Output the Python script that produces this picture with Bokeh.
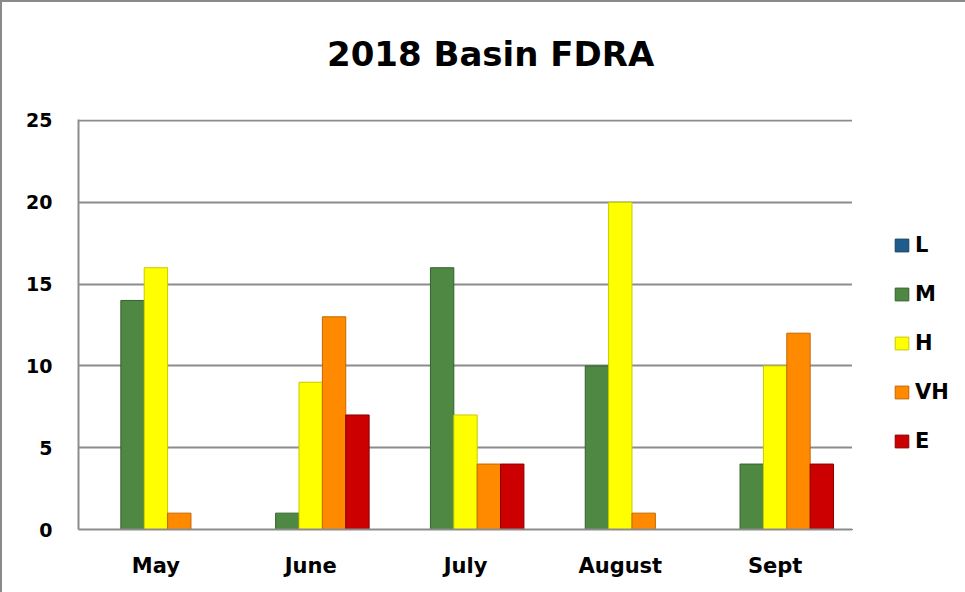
from bokeh.plotting import figure
from bokeh.models import (FactorRange, Range1d, FixedTicker, Legend, LegendItem,
                          ColumnDataSource, Div)
from bokeh.layouts import row, column
from bokeh.transform import dodge
from bokeh.embed import file_html
from bokeh.resources import INLINE

months = ["May", "June", "July", "August", "Sept"]
series = ["L", "M", "H", "VH", "E"]
L = [0, 0, 0, 0, 0]
M = [14, 1, 16, 10, 4]
H = [16, 9, 7, 20, 10]
VH = [1, 13, 4, 1, 12]
E = [0, 7, 4, 0, 4]
y_ticks = [0, 5, 10, 15, 20, 25]
title_text = "2018 Basin FDRA"

fills = ["#1F5C8C", "#4E8843", "#FFFF00", "#FF8A00", "#CC0000"]
edges = ["#15405F", "#35602D", "#C9C900", "#C46600", "#880000"]

FONT = "DejaVu Sans"

src = ColumnDataSource(dict(month=months, L=L, M=M, H=H, VH=VH, E=E))

title_div = Div(text=title_text, width=963, height=74, margin=0,
                styles={"font-family": FONT, "font-weight": "bold", "font-size": "34px",
                        "line-height": "1", "padding-top": "35px", "padding-left": "325px",
                        "color": "black", "white-space": "nowrap", "box-sizing": "border-box",
                        "background": "white"})

p = figure(x_range=FactorRange(*months, range_padding=0), y_range=Range1d(0, 25.06),
           width=850, height=516, output_backend="svg", toolbar_location=None,
           title=None, min_border_left=76, min_border_right=0,
           min_border_top=43, min_border_bottom=63)
p.outline_line_color = None
p.background_fill_color = "white"
p.border_fill_color = "white"

bw = 0.151
for i, s in enumerate(series):
    p.vbar(x=dodge("month", (i - 2) * bw, range=p.x_range), top=s, width=bw,
           source=src, fill_color=fills[i], line_color=edges[i], line_width=1)

p.xgrid.grid_line_color = None
p.ygrid.grid_line_color = "#8c8c8c"
p.ygrid.grid_line_width = 2
p.yaxis.ticker = FixedTicker(ticks=y_ticks)
for ax in (p.xaxis, p.yaxis):
    ax.axis_line_color = "#8c8c8c"
    ax.axis_line_width = 2
    ax.major_tick_line_color = None
    ax.minor_tick_line_color = None
    ax.major_label_text_font = FONT
    ax.major_label_text_font_style = "bold"
    ax.major_label_text_color = "black"
p.yaxis.major_label_text_font_size = "19px"
p.xaxis.major_label_text_font_size = "21px"
p.yaxis.major_label_standoff = 20
p.xaxis.major_label_standoff = 18

# legend panel to the right of the plot area
lg = figure(width=113, height=516, output_backend="svg", toolbar_location=None,
            x_range=Range1d(0, 1), y_range=Range1d(0, 1),
            x_axis_location=None, y_axis_location=None,
            min_border_left=0, min_border_right=0, min_border_top=0, min_border_bottom=0)
lg.outline_line_color = None
lg.grid.grid_line_color = None
lg.border_fill_color = "white"
items = []
for i, s in enumerate(series):
    r = lg.vbar(x=[-5], top=[0], width=0.1, fill_color=fills[i], line_color=edges[i])
    items.append(LegendItem(label=s, renderers=[r]))

legend = Legend(items=items, location=(41, 76), orientation="vertical", padding=0, margin=0,
                spacing=25, glyph_width=17, glyph_height=16, label_standoff=5,
                label_text_font=FONT, label_text_font_style="bold",
                label_text_font_size="21px", label_text_color="black",
                border_line_color=None, background_fill_alpha=0)
lg.add_layout(legend, "center")

layout = column(title_div, row(p, lg, spacing=0), spacing=0)
layout.styles = {"border-left": "2px solid #8a8a8a", "border-top": "2px solid #8a8a8a"}

open("out.html", "w").write(file_html(layout, INLINE))
